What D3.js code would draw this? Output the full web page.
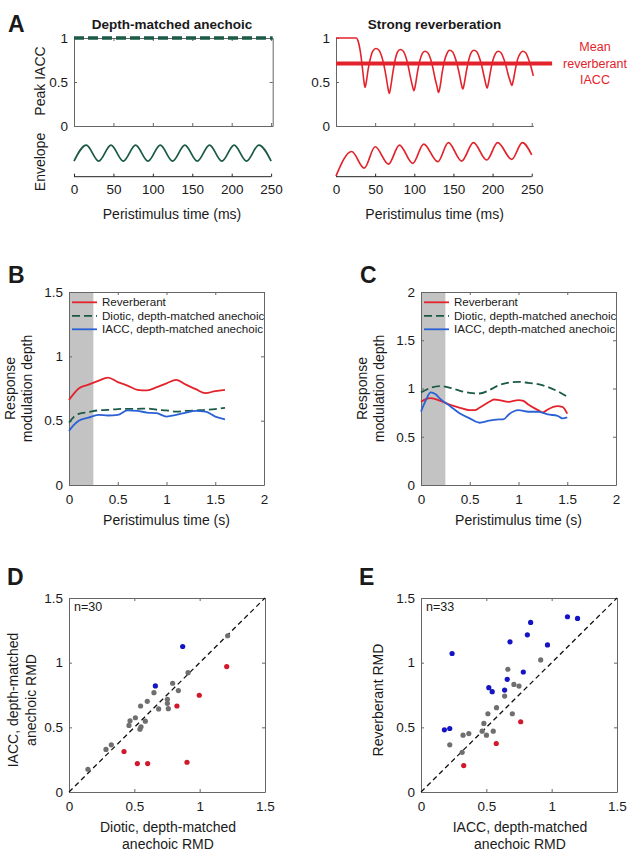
<!DOCTYPE html>
<html><head><meta charset="utf-8">
<script src="https://cdn.jsdelivr.net/npm/d3@7"></script>
<style>body{margin:0;background:#fff}svg{display:block}text{font-family:"Liberation Sans",Arial,sans-serif;fill:#1a1a1a}</style>
</head><body><svg id="fig" width="627" height="853"></svg>
<script>
// ---------------- DATA ----------------
// Panel A
const aTimeTicks = [0, 50, 100, 150, 200, 250];
const aIaccTicks = [0, 0.5, 1];
const anechoicIaccT = [0, 252];
const anechoicIaccV = [1, 1];
const reverbIaccT = [0,26,28,31,34,35.5,37,38.5,41,44,47,51,55,58,61,64,66,68,70,72.5,75.5,78.5,82,86,89,92,95,97.5,99.5,101.5,104,107,110,113.5,117.5,120.5,123.5,126.5,129,131,133,135.5,138.5,141.5,145,149,152,155,158,160,162,164,166.5,169.5,172.5,176,180,183,186,189,191,193,195,197.5,200.5,203.5,207,211,214,217,220,222.5,224.5,226.5,229,232,235,238.5,242.5,245.5,248.5,252];
const reverbIaccV = [1,1,0.97,0.85,0.64,0.52,0.44,0.49,0.64,0.77,0.85,0.88,0.86,0.80,0.70,0.56,0.45,0.37,0.45,0.60,0.75,0.84,0.87,0.85,0.79,0.69,0.56,0.46,0.40,0.47,0.61,0.74,0.82,0.85,0.83,0.77,0.67,0.54,0.45,0.38,0.45,0.60,0.74,0.82,0.86,0.84,0.78,0.69,0.57,0.48,0.42,0.49,0.62,0.75,0.83,0.86,0.84,0.78,0.69,0.57,0.49,0.43,0.50,0.63,0.75,0.82,0.85,0.83,0.77,0.69,0.58,0.51,0.46,0.52,0.64,0.76,0.82,0.85,0.83,0.77,0.69,0.57];
const meanReverbIacc = 0.71;
const meanReverbSpan = [0, 276];
const anechoicEnvT = [0,15.6,31.3,46.9,62.5,78.1,93.8,109.4,125,140.6,156.3,171.9,187.5,203.1,218.8,234.4,250];
const anechoicEnvV = [0.44,0.91,0.44,0.91,0.44,0.91,0.44,0.91,0.44,0.91,0.44,0.91,0.44,0.91,0.44,0.91,0.44];
const reverbEnvT = [0,20,36,50,67,81,98,112,130,143.5,160.5,175.5,192.5,206.5,224.5,238,250];
const reverbEnvV = [0,0.72,0.23,0.86,0.35,0.91,0.37,0.94,0.42,0.98,0.44,0.98,0.47,0.98,0.49,0.98,0.62];

// Panel B
const bcTimeTicks = [0, 0.5, 1, 1.5, 2];
const bDepthTicks = [0, 0.5, 1, 1.5];
const bTime = [0,0.05,0.1,0.2,0.3,0.4,0.5,0.6,0.7,0.8,0.9,1.0,1.1,1.2,1.3,1.4,1.5,1.6];
const bReverb = [0.66,0.71,0.75,0.78,0.81,0.835,0.80,0.773,0.74,0.735,0.76,0.79,0.817,0.78,0.745,0.714,0.73,0.74];
const bDiotic = [0.485,0.53,0.553,0.566,0.58,0.584,0.59,0.592,0.592,0.594,0.585,0.58,0.57,0.576,0.58,0.584,0.59,0.60];
const bIacc = [0.42,0.467,0.5,0.524,0.545,0.54,0.545,0.58,0.576,0.563,0.558,0.532,0.545,0.563,0.576,0.57,0.532,0.51];
const onsetWindow = [0, 0.25];

// Panel C
const cDepthTicks = [0, 0.5, 1, 1.5, 2];
const cReverbT = [0,0.05,0.1,0.2,0.3,0.4,0.5,0.55,0.6,0.7,0.75,0.8,0.9,1.0,1.05,1.1,1.2,1.25,1.3,1.4,1.45,1.5];
const cReverbV = [0.862,0.89,0.90,0.872,0.83,0.80,0.776,0.776,0.80,0.862,0.886,0.88,0.862,0.88,0.872,0.834,0.776,0.752,0.783,0.817,0.81,0.74];
const cDioticT = [0,0.1,0.2,0.3,0.4,0.5,0.6,0.7,0.8,0.9,1.0,1.1,1.2,1.3,1.4,1.5];
const cDioticV = [0.96,1.007,1.024,1.007,0.976,0.955,0.948,0.983,1.034,1.062,1.069,1.059,1.045,1.017,0.972,0.914];
const cIaccT = [0,0.05,0.1,0.15,0.2,0.3,0.4,0.5,0.6,0.7,0.8,0.85,0.9,1.0,1.1,1.2,1.3,1.4,1.45,1.5];
const cIaccV = [0.76,0.88,0.96,0.94,0.89,0.817,0.741,0.69,0.645,0.666,0.679,0.683,0.731,0.776,0.759,0.759,0.731,0.717,0.69,0.70];

const legendLabels = ["Reverberant", "Diotic, depth-matched anechoic", "IACC, depth-matched anechoic"];

// Panels D, E
const rmdTicks = [0, 0.5, 1, 1.5];
const dDiotic = [1.214,0.911,0.793,0.837,0.650,0.599,0.548,0.753,0.753,0.760,0.686,0.508,0.467,0.459,0.584,0.551,0.543,0.324,0.283,0.145,0.870,0.661,0.997,0.826,0.421,0.523,0.602,0.903,1.207];
const dIacc   = [1.208,0.923,0.841,0.784,0.768,0.701,0.665,0.717,0.686,0.644,0.642,0.574,0.551,0.515,0.548,0.504,0.486,0.365,0.329,0.176,1.125,0.820,0.748,0.665,0.313,0.220,0.220,0.230,0.970];
const dGroup  = ["n","n","n","n","n","n","n","n","n","n","n","n","n","n","n","n","n","n","n","n","b","b","r","r","r","r","r","r","r"];
const eIacc   = [0.238,1.121,1.198,0.839,0.814,0.681,0.968,0.783,0.660,0.519,0.545,0.640,0.179,0.220,0.916,0.665,0.711,0.750,0.640,0.578,0.512,0.699,0.481,0.468,0.501,0.553,0.322,0.366,0.220,0.315,0.763,0.576,0.327];
const eReverb = [1.071,1.355,1.342,1.311,1.215,1.161,1.137,0.928,0.871,0.807,0.776,0.788,0.481,0.491,1.021,0.949,0.832,0.819,0.742,0.652,0.605,0.605,0.530,0.470,0.439,0.470,0.439,0.452,0.365,0.307,0.543,0.375,0.204];
const eGroup  = ["b","b","b","b","b","b","b","b","b","b","b","b","b","b","n","n","n","n","n","n","n","n","n","n","n","n","n","n","n","n","r","r","r"];

// ---------------- STYLE ----------------
const RED = "#e3232b", GREEN = "#1b5a47", BLUE = "#2a62d6";
const DOT = {n: "#6f6f6f", b: "#1414c4", r: "#d2182a"};
const FRAME = "#666";
const LABEL = 14;
const fmt = d3.format("~g");
const svg = d3.select("#fig");

function txt(t, x, y, o = {}) {
  const e = svg.append("text").attr("x", x).attr("y", y).text(t)
    .attr("font-size", o.size || LABEL)
    .attr("text-anchor", o.anchor || "middle");
  if (o.bold) e.attr("font-weight", "bold");
  if (o.color) e.style("fill", o.color);
  if (o.rot) e.attr("transform", `rotate(-90,${x},${y})`);
  return e;
}

function frame(x, y, o) {
  const g = svg.append("g");
  const [x0, x1] = x.range(), [y0, y1] = y.range();
  const ts = 3;
  const style = sel => {
    sel.selectAll(".domain").attr("stroke", FRAME);
    sel.selectAll(".tick line").attr("stroke", FRAME);
    sel.selectAll("text").attr("font-size", 13.5).attr("font-family", null).style("fill", "#1a1a1a");
  };
  if (o.bottom !== false)
    g.append("g").attr("transform", `translate(0,${y0})`)
      .call(d3.axisBottom(x).tickValues(o.xt).tickSizeInner(-ts).tickSizeOuter(0)
        .tickPadding(o.xpad || 9.5).tickFormat(o.xlabels === false ? "" : fmt)).call(style);
  if (o.top)
    g.append("g").attr("transform", `translate(0,${y1})`)
      .call(d3.axisTop(x).tickValues(o.xt).tickSizeInner(-ts).tickSizeOuter(0).tickFormat("")).call(style);
  g.append("g").attr("transform", `translate(${x0},0)`)
    .call(d3.axisLeft(y).tickValues(o.yt).tickSizeInner(-ts).tickSizeOuter(0).tickPadding(6).tickFormat(fmt)).call(style);
  if (o.right)
    g.append("g").attr("transform", `translate(${x1},0)`)
      .call(d3.axisRight(y).tickValues(o.yt).tickSizeInner(-ts).tickSizeOuter(0).tickFormat("")).call(style);
  return g;
}

function line(x, y, T, V, color, width, dash, curve) {
  svg.append("path").datum(T.map((t, i) => [t, V[i]]))
    .attr("fill", "none").attr("stroke", color).attr("stroke-width", width)
    .attr("stroke-dasharray", dash || null).attr("stroke-linejoin", "round")
    .attr("d", d3.line().x(d => x(d[0])).y(d => y(d[1])).curve(curve || d3.curveMonotoneX));
}

// ---------------- PANEL A ----------------
const aIaccY = d3.scaleLinear().domain([0, 1]).range([126, 38]);
const aEnvY = d3.scaleLinear().domain([0, 1]).range([176, 142]);
const aXL = d3.scaleLinear().domain([0, 252]).range([74, 272.7]);
const aXR = d3.scaleLinear().domain([0, 252]).range([336, 533.3]);

txt("A", 8, 32, {size: 23, bold: true, anchor: "start"});
txt("Depth-matched anechoic", 172, 29, {size: 13.5, bold: true});
txt("Strong reverberation", 434.6, 29, {size: 13.5, bold: true});

// left top
frame(aXL, aIaccY, {xt: aTimeTicks, yt: aIaccTicks, top: true, right: true, xlabels: false});
line(aXL, aIaccY, anechoicIaccT, anechoicIaccV, GREEN, 3.5, "10,4", d3.curveLinear);
// right top
frame(aXR, aIaccY, {xt: aTimeTicks, yt: aIaccTicks, top: false, right: false, xlabels: false});
line(aXR, aIaccY, reverbIaccT, reverbIaccV, RED, 1.6);
svg.append("line")
  .attr("x1", aXR(meanReverbSpan[0])).attr("x2", aXR(meanReverbSpan[1]))
  .attr("y1", aIaccY(meanReverbIacc)).attr("y2", aIaccY(meanReverbIacc))
  .attr("stroke", RED).attr("stroke-width", 4.2);
txt("Mean", 595, 51, {size: 12.5, color: RED});
txt("reverberant", 595, 68, {size: 12.5, color: RED});
txt("IACC", 595, 84, {size: 12.5, color: RED});

// envelopes
[[aXL, anechoicEnvT, anechoicEnvV, GREEN], [aXR, reverbEnvT, reverbEnvV, RED]].forEach(([x, T, V, c]) => {
  const envAxis = svg.append("g").attr("transform", `translate(0,176.7)`)
    .call(d3.axisBottom(x).tickValues(aTimeTicks).tickSizeInner(-3).tickSizeOuter(0).tickPadding(8).tickFormat(fmt));
  envAxis.select(".domain").attr("d", `M${x(0)},0H${x(250)}`).attr("stroke", "#222");
  envAxis.selectAll(".tick line").attr("stroke", "#222");
  envAxis.selectAll("text").attr("font-size", 13.5).attr("font-family", null);
  line(x, aEnvY, T, V, c, 1.7);
});

txt("Peak IACC", 45, 81, {rot: true});
txt("Envelope", 45, 162, {rot: true});
txt("Peristimulus time (ms)", 172, 219);
txt("Peristimulus time (ms)", 434.6, 219);

// ---------------- PANELS B, C ----------------
function rmdPanel(left, yDomainMax, yt, series, letter) {
  const x = d3.scaleLinear().domain([0, 2]).range([left, left + 195]);
  const y = d3.scaleLinear().domain([0, yDomainMax]).range([485, 292]);
  svg.append("rect").attr("x", x(onsetWindow[0])).attr("width", x(onsetWindow[1]) - x(onsetWindow[0]))
    .attr("y", y(yDomainMax)).attr("height", y(0) - y(yDomainMax)).attr("fill", "#c3c3c3");
  frame(x, y, {xt: bcTimeTicks, yt: yt, top: true, right: true});
  const styles = [[RED, null], [GREEN, "8,4"], [BLUE, null]];
  series.forEach(([T, V], i) => line(x, y, T, V, styles[i][0], 1.8, styles[i][1]));
  // legend
  legendLabels.forEach((lab, i) => {
    const yy = 302.3 + i * 13.5;
    svg.append("line").attr("x1", left + 3).attr("x2", left + 28).attr("y1", yy).attr("y2", yy)
      .attr("stroke", styles[i][0]).attr("stroke-width", 1.8).attr("stroke-dasharray", styles[i][1]);
    txt(lab, left + 33, yy + 4, {size: 11.6, anchor: "start"});
  });
  txt(letter, left - 61, 283, {size: 23, bold: true, anchor: "start"});
  txt("Response", left - 54, 388.5, {rot: true});
  txt("modulation depth", left - 37, 388.5, {rot: true});
  txt("Peristimulus time (s)", left + 97.5, 525);
}
rmdPanel(69, 1.5, bDepthTicks, [[bTime, bReverb], [bTime, bDiotic], [bTime, bIacc]], "B");
rmdPanel(421, 2, cDepthTicks, [[cReverbT, cReverbV], [cDioticT, cDioticV], [cIaccT, cIaccV]], "C");

// ---------------- PANELS D, E ----------------
function scatterPanel(left, X, Y, G, nText, letter, ylab, xlab) {
  const x = d3.scaleLinear().domain([0, 1.5]).range([left, left + 196]);
  const y = d3.scaleLinear().domain([0, 1.5]).range([792, 598]);
  frame(x, y, {xt: rmdTicks, yt: rmdTicks, top: true, right: true});
  svg.append("line").attr("x1", x(0)).attr("y1", y(0)).attr("x2", x(1.5)).attr("y2", y(1.5))
    .attr("stroke", "#111").attr("stroke-width", 1.3).attr("stroke-dasharray", "5,3.5");
  svg.append("g").selectAll("circle").data(X.map((v, i) => [v, Y[i], G[i]])).join("circle")
    .attr("cx", d => x(d[0])).attr("cy", d => y(d[1])).attr("r", 2.6).attr("fill", d => DOT[d[2]]);
  txt(nText, left + 5, 611, {size: 12.5, anchor: "start"});
  txt(letter, left - 62, 585, {size: 23, bold: true, anchor: "start"});
  ylab.forEach((l, i) => txt(l, left - (ylab.length === 2 ? 51 : 38) + i * 18, 700, {rot: true}));
  xlab.forEach((l, i) => txt(l, left + 99, 832 + i * 17));
}
scatterPanel(69, dDiotic, dIacc, dGroup, "n=30", "D",
  ["IACC, depth-matched", "anechoic RMD"], ["Diotic, depth-matched", "anechoic RMD"]);
scatterPanel(421, eIacc, eReverb, eGroup, "n=33", "E",
  ["Reverberant RMD"], ["IACC, depth-matched", "anechoic RMD"]);
</script>
</body></html>
